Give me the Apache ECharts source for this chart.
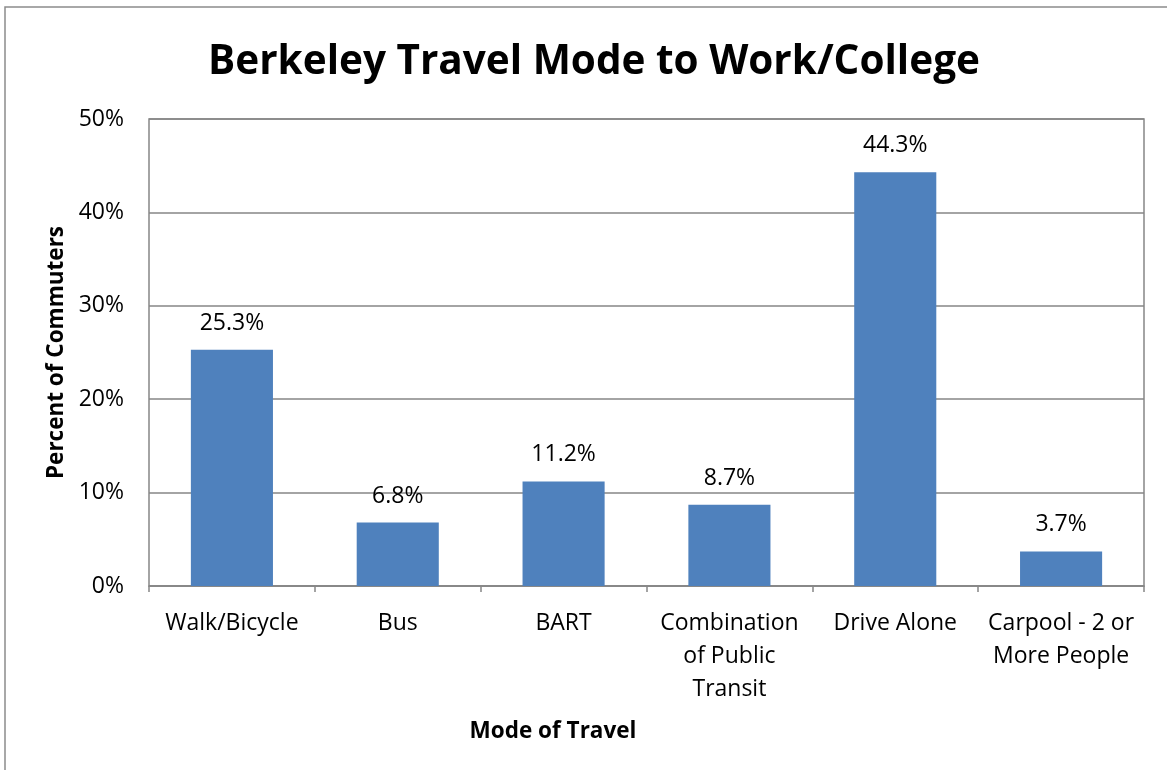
<!DOCTYPE html>
<html>
<head>
<meta charset="utf-8">
<script src="https://cdn.jsdelivr.net/npm/echarts@6/dist/echarts.min.js"></script>
<style>
  html, body { margin: 0; padding: 0; background: #fff; }
  #chart { width: 1167px; height: 770px; }
</style>
</head>
<body>
<div id="chart"></div>
<script>
// Commute mode shares for Berkeley residents
const modes = ['Walk/Bicycle', 'Bus', 'BART', 'Combination\nof Public\nTransit', 'Drive Alone', 'Carpool - 2 or\nMore People'];
const shares = [25.3, 6.8, 11.2, 8.7, 44.3, 3.7];
const yTicks = [0, 10, 20, 30, 40, 50];

const FONT = '"Open Sans", Lato, sans-serif';
const chart = echarts.init(document.getElementById('chart'), null, { renderer: 'canvas' });

chart.setOption({
  backgroundColor: '#ffffff',
  animation: false,
  textStyle: { fontFamily: FONT },
  title: [{
    text: 'Berkeley Travel Mode to Work/College',
    left: 589, top: 37, textAlign: 'center',
    textStyle: { fontSize: 40.5, fontWeight: 'bold', color: '#000', fontFamily: FONT }
  }, {
    // x-axis title sits left of the plot centre
    text: 'Mode of Travel',
    left: 548, top: 715, textAlign: 'center',
    textStyle: { fontSize: 22.5, fontWeight: 'bold', color: '#000', fontFamily: FONT }
  }],
  graphic: [{
    type: 'rect', silent: true, z: -1,
    shape: { x: 5, y: 7, width: 1180, height: 800 },
    style: { fill: 'none', stroke: '#8c8c8c', lineWidth: 1.5 }
  }],
  grid: { left: 149, right: 23, top: 119, bottom: 184, show: true, borderColor: '#868686', borderWidth: 1.5 },
  xAxis: {
    type: 'category',
    data: modes,
    axisLine: { lineStyle: { color: '#868686', width: 1.5 } },
    axisTick: { show: true, length: 6, lineStyle: { color: '#868686', width: 1.5 } },
    axisLabel: { fontSize: 23, color: '#000', lineHeight: 33, margin: 21, interval: 0, fontFamily: FONT }
  },
  yAxis: {
    type: 'value',
    min: 0, max: 50, interval: 10,
    name: 'Percent of Commuters',
    nameLocation: 'middle',
    nameGap: 80,
    nameRotate: 90,
    nameTextStyle: { fontSize: 22.5, fontWeight: 'bold', color: '#000', fontFamily: FONT },
    axisLine: { show: false },
    axisTick: { show: false },
    splitLine: { lineStyle: { color: '#868686', width: 1.5 } },
    axisLabel: {
      fontSize: 23, color: '#000', margin: 25, fontFamily: FONT,
      formatter: v => (yTicks.includes(v) ? v + '%' : '')
    }
  },
  series: [{
    type: 'bar',
    data: shares,
    barWidth: '49.5%',
    itemStyle: { color: '#4f81bd' },
    label: {
      show: true, position: 'top', distance: 15,
      fontSize: 23, color: '#000', fontFamily: FONT,
      formatter: p => p.value.toFixed(1) + '%'
    }
  }]
});
</script>
</body>
</html>
